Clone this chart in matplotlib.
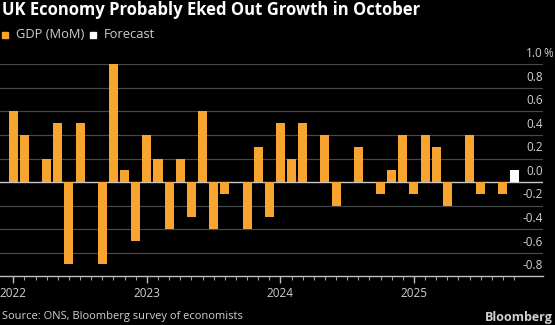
import numpy as np
import pandas as pd
import matplotlib
matplotlib.use("Agg")
import matplotlib.pyplot as plt
from matplotlib.patches import Rectangle

# month-on-month GDP change, Jan 2022 .. Sep 2025, plus the October 2025 forecast
months = pd.period_range("2022-01", "2025-10", freq="M")
gdp_mom = [0.6, 0.4, 0.0, 0.2, 0.5, -0.7, 0.5, 0.0, -0.7, 1.0, 0.1, -0.5,
           0.4, 0.2, -0.4, 0.2, -0.3, 0.6, -0.4, -0.1, 0.0, -0.4, 0.3, -0.3,
           0.5, 0.2, 0.5, 0.0, 0.4, -0.2, 0.0, 0.3, 0.0, -0.1, 0.1, 0.4,
           -0.1, 0.4, 0.3, -0.2, 0.0, 0.4, -0.1, 0.0, -0.1]
forecast = [0.1]
year_labels = ["2022", "2023", "2024", "2025"]
yticks = [-0.8, -0.6, -0.4, -0.2, 0.0, 0.2, 0.4, 0.6, 0.8, 1.0]

ORANGE = "#f7a52f"
BG = "black"
TXT = "#d0d0d0"
FONT = "Open Sans"

plt.rcParams["font.family"] = [FONT, "DejaVu Sans"]

fig = plt.figure(figsize=(5.55, 3.25), dpi=100, facecolor=BG)
ax = fig.add_axes([0.0, 0.150, 543 / 555, 0.652])
ax.set_facecolor(BG)

x = np.arange(len(months))
n = len(gdp_mom)
ax.bar(x[:n], gdp_mom, width=0.81, color=ORANGE, zorder=3)
ax.bar(x[n:], forecast, width=0.81, color="white", zorder=3)

ax.set_xlim(-1.2, 47.6)
ax.set_ylim(-0.8, 1.0)

# gridlines and zero line
for v in yticks:
    if v == 0:
        ax.axhline(v, color="#c8c8c8", lw=1.0, zorder=2)
    elif v > -0.8:
        ax.axhline(v, color="#474747", lw=0.9, zorder=1)

# y labels on the right, sitting just above their gridlines
for v in yticks:
    ax.text(1.0, v + 0.035, f"{v:.1f}", transform=ax.get_yaxis_transform(),
            ha="right", va="bottom", fontsize=8.5, color=TXT)
ax.text(1.0, 1.035, "%", transform=ax.get_yaxis_transform(), ha="left",
        va="bottom", fontsize=8.5, color=TXT)

for s in ["top", "right", "left"]:
    ax.spines[s].set_visible(False)
ax.spines["bottom"].set_color("#bdbdbd")
ax.spines["bottom"].set_linewidth(1.0)
ax.set_yticks([])

year_pos = [x[i] for i in range(len(months)) if months[i].month == 1]
ax.set_xticks(year_pos)
ax.set_xticklabels(year_labels, fontsize=8.5, color=TXT)
ax.set_xticks(x, minor=True)
ax.tick_params(axis="x", which="major", length=5, width=1, color="#bdbdbd", pad=3)
ax.tick_params(axis="x", which="minor", length=3, width=0.8, color="#9a9a9a")

# title, legend, footer
fig.text(0.004, 1 - 10 / 325, "UK Economy Probably Eked Out Growth in October",
         fontsize=12, fontweight="bold", color="white", va="center", ha="left")
fig.patches.append(Rectangle((2 / 555, 1 - 37.5 / 325), 6 / 555, 6 / 325,
                             transform=fig.transFigure, color=ORANGE))
fig.text(16 / 555, 1 - 34.5 / 325, "GDP (MoM)", fontsize=9.3, color=TXT, va="center")
fig.patches.append(Rectangle((90 / 555, 1 - 37.5 / 325), 6 / 555, 6 / 325,
                             transform=fig.transFigure, color="white"))
fig.text(104 / 555, 1 - 34.5 / 325, "Forecast", fontsize=9.3, color=TXT, va="center")

fig.text(0.004, 1 - 317 / 325, "Source: ONS, Bloomberg survey of economists",
         fontsize=8, color=TXT, va="center")
fig.text(553 / 555, 1 - 317 / 325, "Bloomberg", fontsize=9, fontweight="bold",
         color=TXT, va="center", ha="right")

fig.savefig("out.png", dpi=100, facecolor=BG)
